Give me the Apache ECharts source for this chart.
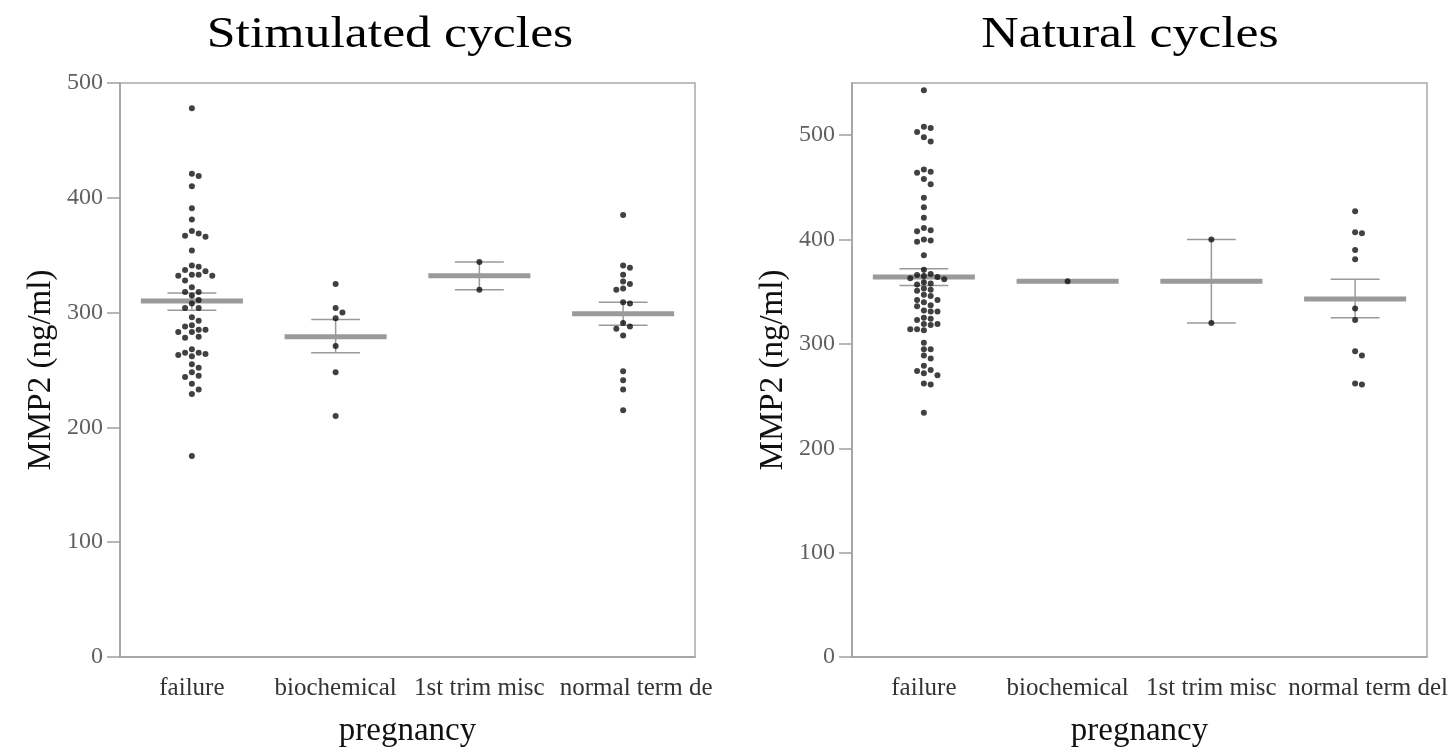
<!DOCTYPE html>
<html>
<head>
<meta charset="utf-8">
<title>MMP2 by pregnancy outcome</title>
<script src="https://cdn.jsdelivr.net/npm/echarts@6/dist/echarts.min.js"></script>
<style>
  html, body { margin: 0; padding: 0; background: #fff; }
  #main { width: 1453px; height: 748px; }
</style>
</head>
<body>
<div id="main"></div>
<script>
// categories / tick labels
const catsStim = ["failure", "biochemical", "1st trim misc", "normal term de"];
const catsNat = ["failure", "biochemical", "1st trim misc", "normal term del"];
const yTicksStim = [0, 100, 200, 300, 400, 500];
const yTicksNat = [0, 100, 200, 300, 400, 500];

// stimulated cycles, MMP2 (ng/ml) per patient
const stimFailure = [478, 421, 419, 410, 391, 381, 371, 369, 367, 366, 354, 341, 340, 337, 336, 333, 333, 332, 332, 328,
  322, 318, 318, 315, 311, 308, 304, 304, 296, 293, 289, 288, 285, 285, 283, 283, 279, 278, 268, 265, 265, 264, 263, 262,
  255, 252, 248, 245, 244, 238, 233, 229, 175];
const stimBiochem = [325, 304, 300, 295, 271, 248, 210];
const stimTrim = [344, 320];
const stimTerm = [385, 341, 339, 333, 327, 325, 321, 320, 309, 308, 291, 288, 286, 280, 249, 241, 233, 215];
// mean and error bar ends
const stimMean = [310, 279, 332, 299];
const stimLow = [302, 265, 320, 289];
const stimHigh = [317, 294, 344, 309];

// natural cycles
const natFailure = [543, 508, 507, 503, 498, 494, 467, 465, 464, 458, 453, 440, 431, 421, 411, 409, 408, 400, 399, 398,
  385, 371, 367, 366, 365, 364, 363, 362, 359, 358, 357, 353, 352, 351, 347, 346, 342, 342, 340, 337, 336, 332, 331, 331,
  325, 324, 323, 319, 319, 318, 314, 314, 313, 301, 295, 295, 289, 286, 279, 275, 274, 272, 270, 262, 261, 234];
const natBiochem = [360];
const natTrim = [400, 320];
const natTerm = [427, 407, 406, 390, 381, 334, 323, 293, 289, 262, 261];
const natMean = [364, 360, 360, 343];
const natLow = [356, 360, 320, 325];
const natHigh = [372, 360, 400, 362];

const FONT = "'Liberation Serif', 'Times New Roman', serif";
const gridH = 574;

// simple beeswarm: push a dot sideways when it would sit on another one
function swarm(values, pxPerUnit) {
  const placed = [];
  return values.map(v => {
    const y = v * pxPerUnit;
    for (let j = 0; ; j++) {
      const k = j === 0 ? 0 : (j % 2 ? Math.ceil(j / 2) : -Math.ceil(j / 2));
      if (!placed.some(p => p.k === k && Math.abs(p.y - y) < 6)) {
        placed.push({ y: y, k: k });
        return k * 6.8;
      }
    }
  });
}

function dots(groups, pxPerUnit) {
  const out = [];
  groups.forEach((vals, i) => {
    const offs = swarm(vals, pxPerUnit);
    vals.forEach((v, j) => out.push({ value: [i, v], symbolOffset: [offs[j], 0] }));
  });
  return out;
}

function meanData(mean, low, high) {
  return mean.map((m, i) => [i, m, low[i], high[i]]);
}

function renderMean(params, api) {
  const i = api.value(0);
  const c = api.coord([i, api.value(1)]);
  const lo = api.coord([i, api.value(2)]);
  const hi = api.coord([i, api.value(3)]);
  const band = api.size([1, 0])[0];
  const capW = band * 0.17;
  const meanW = band * 0.355;
  const thin = { stroke: "#9a9a9a", lineWidth: 1.5 };
  return {
    type: "group",
    children: [
      { type: "line", shape: { x1: c[0], y1: lo[1], x2: c[0], y2: hi[1] }, style: thin },
      { type: "line", shape: { x1: c[0] - capW, y1: lo[1], x2: c[0] + capW, y2: lo[1] }, style: thin },
      { type: "line", shape: { x1: c[0] - capW, y1: hi[1], x2: c[0] + capW, y2: hi[1] }, style: thin },
      { type: "line", shape: { x1: c[0] - meanW, y1: c[1], x2: c[0] + meanW, y2: c[1] },
        style: { stroke: "#9a9a9a", lineWidth: 5 } }
    ]
  };
}

function xAxis(cats, idx) {
  return {
    type: "category", gridIndex: idx, data: cats, boundaryGap: true,
    name: "pregnancy", nameLocation: "middle", nameGap: 58,
    nameTextStyle: { fontFamily: FONT, fontSize: 33, color: "#111" },
    axisLine: { lineStyle: { color: "#a0a0a0", width: 1.5 } },
    axisTick: { alignWithLabel: true, length: 12, lineStyle: { color: "#a0a0a0", width: 1.5 } },
    axisLabel: {
      interval: 0, margin: 19, fontFamily: FONT, fontSize: 25, color: "#333",
      // last label sits a bit to the right in the original
      formatter: (v, i) => (i === 3 ? "{s|" + v + "}" : v),
      rich: { s: { fontFamily: FONT, fontSize: 25, color: "#333", padding: [0, 0, 0, 26] } }
    },
    splitLine: { show: false }
  };
}

function yAxis(max, ticks, idx) {
  return {
    type: "value", gridIndex: idx, min: 0, max: max, interval: 100,
    name: "MMP2 (ng/ml)", nameLocation: "middle", nameGap: 62,
    nameTextStyle: { fontFamily: FONT, fontSize: 33, color: "#111" },
    axisLine: { show: true, lineStyle: { color: "#a0a0a0", width: 1.5 } },
    axisTick: { show: true, length: 13, customValues: ticks, lineStyle: { color: "#a0a0a0", width: 1.5 } },
    axisLabel: { customValues: ticks, margin: 17, fontFamily: FONT, fontSize: 24, color: "#606060" },
    splitLine: { show: false }
  };
}

const chart = echarts.init(document.getElementById("main"));
chart.setOption({
  animation: false,
  backgroundColor: "#fff",
  graphic: [
    { type: "text", x: 390, y: 35, scaleX: 1.15,
      style: { text: "Stimulated cycles", font: "45px " + FONT, fill: "#000", align: "center", verticalAlign: "middle" } },
    { type: "text", x: 1130, y: 35, scaleX: 1.15,
      style: { text: "Natural cycles", font: "45px " + FONT, fill: "#000", align: "center", verticalAlign: "middle" } }
  ],
  grid: [
    { left: 120, top: 83, width: 575, height: gridH, outerBoundsMode: "none",
      show: true, borderColor: "#a8a8a8", borderWidth: 1.5 },
    { left: 852, top: 83, width: 575, height: gridH, outerBoundsMode: "none",
      show: true, borderColor: "#a8a8a8", borderWidth: 1.5 }
  ],
  xAxis: [xAxis(catsStim, 0), xAxis(catsNat, 1)],
  yAxis: [yAxis(500, yTicksStim, 0), yAxis(550, yTicksNat, 1)],
  series: [
    { type: "custom", xAxisIndex: 0, yAxisIndex: 0, z: 2, renderItem: renderMean,
      encode: { x: 0, y: [1, 2, 3] }, data: meanData(stimMean, stimLow, stimHigh) },
    { type: "custom", xAxisIndex: 1, yAxisIndex: 1, z: 2, renderItem: renderMean,
      encode: { x: 0, y: [1, 2, 3] }, data: meanData(natMean, natLow, natHigh) },
    { type: "scatter", xAxisIndex: 0, yAxisIndex: 0, z: 3, symbol: "circle", symbolSize: 6,
      itemStyle: { color: "#111" },
      data: dots([stimFailure, stimBiochem, stimTrim, stimTerm], gridH / 500) },
    { type: "scatter", xAxisIndex: 1, yAxisIndex: 1, z: 3, symbol: "circle", symbolSize: 6,
      itemStyle: { color: "#111" },
      data: dots([natFailure, natBiochem, natTrim, natTerm], gridH / 550) }
  ]
});
</script>
</body>
</html>
